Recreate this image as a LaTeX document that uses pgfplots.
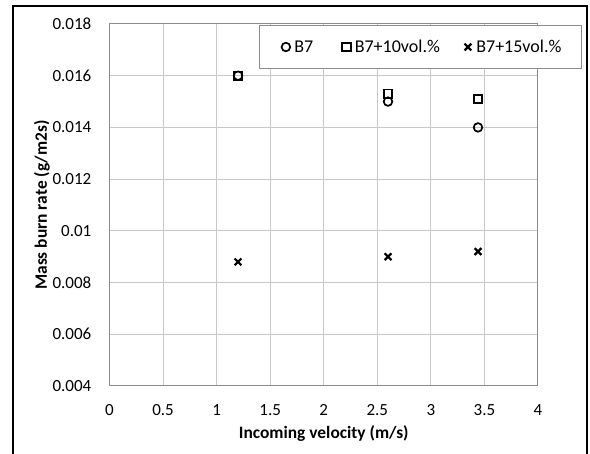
\documentclass[border=0pt]{standalone}
\usepackage{fontspec}
\setmainfont{Carlito}
\usepackage{pgfplots}
\pgfplotsset{compat=1.18}
\definecolor{gridgray}{HTML}{C8C8C8}
\definecolor{axisgray}{HTML}{8C8C8C}
\begin{document}
\begin{tikzpicture}[x=1pt,y=1pt]
\useasboundingbox (0,0) rectangle (295,227);
\fill[white] (0,0) rectangle (295,227);
\begin{axis}[
  at={(54.75pt,34pt)}, anchor=south west,
  scale only axis, width=214.25pt, height=181pt,
  xmin=0, xmax=4, ymin=0.004, ymax=0.018,
  xtick={0,0.5,1,1.5,2,2.5,3,3.5,4},
  ytick={0.004,0.006,0.008,0.01,0.012,0.014,0.016,0.018},
  grid=major, major grid style={gridgray, line width=0.5pt},
  axis line style={axisgray, line width=0.5pt},
  tick style={draw=none}, major tick length=0pt,
  scaled y ticks=false, scaled x ticks=false,
  /pgf/number format/assume math mode=true,
  yticklabel style={/pgf/number format/fixed, /pgf/number format/precision=3,
    font=\fontsize{8.5}{10}\selectfont, anchor=east, inner xsep=0pt, xshift=-8.9pt},
  xticklabel style={font=\fontsize{8.5}{10}\selectfont, anchor=base, yshift=-14.85pt},
  xlabel={Incoming velocity (m/s)},
  ylabel={Mass burn rate (g/m2s)},
  x label style={at={(rel axis cs:0.5,-0.1464)}, anchor=base, font=\bfseries\fontsize{8.7}{10}\selectfont},
  y label style={at={(rel axis cs:-0.1575,0.5)}, anchor=center, font=\bfseries\fontsize{8.7}{10}\selectfont},
  legend columns=3,
  legend cell align=left,
  legend image code/.code={\path[draw=none,fill=none] (-3pt,-3pt) rectangle (3pt,3pt); \draw[#1] plot coordinates {(0pt,0pt)};},
  legend style={at={(rel axis cs:0.3489,0.9972)}, anchor=north west,
    draw=axisgray, line width=0.5pt, fill=white, inner xsep=10.2pt, inner ysep=7.75pt,
    nodes={inner sep=0pt, text height=5.7pt, text depth=0pt, font=\fontsize{9}{10}\selectfont},
    /tikz/every odd column/.append style={column sep=1.2pt},
    /tikz/every even column/.append style={column sep=11pt}},
]
\addplot[only marks, mark=o, mark size=2.15pt, mark options={black, line width=0.85pt}]
  coordinates {(1.2,0.016) (2.6,0.015) (3.44,0.014)};
\addlegendentry{B7\hspace*{2.6pt}}
\addplot[only marks, mark=square, mark size=2.15pt, mark options={black, line width=0.85pt}]
  coordinates {(1.2,0.016) (2.6,0.0153) (3.44,0.0151)};
\addlegendentry{B7+10vol.\%}
\addplot[only marks, mark=x, mark size=2.4pt, mark options={black, line width=1.1pt}]
  coordinates {(1.2,0.0088) (2.6,0.009) (3.44,0.0092)};
\addlegendentry{B7+15vol.\%}
\end{axis}
\draw[black, line width=1pt] (6.5,-3) rectangle (293.5,224);
\end{tikzpicture}
\end{document}
